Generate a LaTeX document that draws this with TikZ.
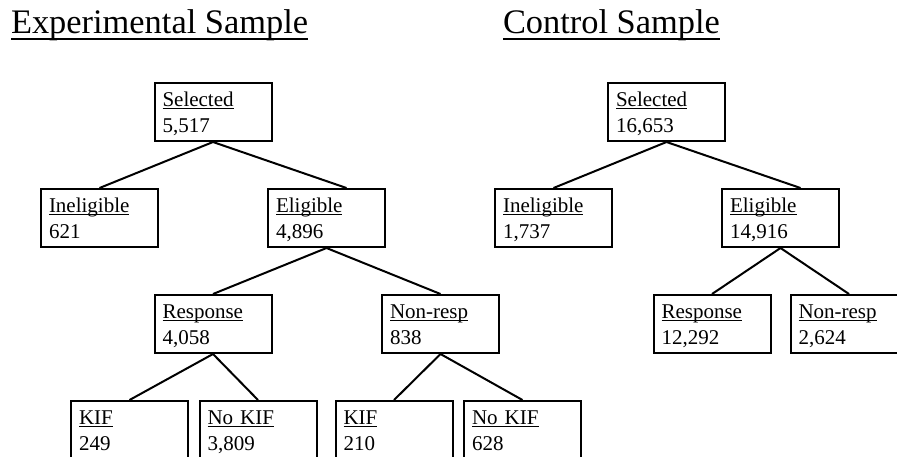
\documentclass[tikz,border=0pt]{standalone}
\usepackage{fontspec}
\setmainfont{Liberation Serif}
\usetikzlibrary{positioning}
% underline at a fixed depth, cutting through descenders
\newcommand{\undl}[3]{\setbox0=\hbox{#3}\rlap{\rule[-#1]{\wd0}{#2}}\box0}
% two-line box content: underlined label over a count
\newcommand{\boxtext}[2]{\rule{0pt}{11.5pt}\undl{1.5pt}{0.5pt}{#1}\\#2\rule[-4.5pt]{0pt}{4.5pt}}

\begin{document}
\begin{tikzpicture}[x=0.5pt,y=-0.5pt,line width=1pt,node distance=23pt,
    tbox/.style={draw,rectangle,minimum width=58.5pt,minimum height=29pt,
      text width=50.5pt,inner xsep=4pt,inner ysep=0pt,align=left,
      font=\fontsize{10.5}{13}\selectfont},
    heading/.style={anchor=base west,inner sep=0pt,
      font=\fontsize{17.2}{20}\selectfont}]
  \clip (0,0) rectangle (897,456);
  % experimental sample
  \node[heading] (eHead) at (10,33) {\undl{3.5pt}{1pt}{Experimental Sample}};
  \node[tbox,anchor=north] (eSel) at (213,82) {\boxtext{Selected}{5,517}};
  \node[tbox,below=of eSel,xshift=-56.75pt] (eInel) {\boxtext{Ineligible}{621}};
  \node[tbox,below=of eSel,xshift=56.75pt] (eElig) {\boxtext{Eligible}{4,896}};
  \node[tbox,below=of eElig,xshift=-56.75pt] (eResp) {\boxtext{Response}{4,058}};
  \node[tbox,below=of eElig,xshift=57pt] (eNon) {\boxtext{Non-resp}{838}};
  \node[tbox,below=of eResp,xshift=-41.75pt] (eKif) {\boxtext{KIF}{249}};
  \node[tbox,below=of eResp,xshift=22.5pt] (eNoKif) {\boxtext{No KIF}{3,809}};
  \node[tbox,below=of eNon,xshift=-23.25pt] (nKif) {\boxtext{KIF}{210}};
  \node[tbox,below=of eNon,xshift=41pt] (nNoKif) {\boxtext{No KIF}{628}};
  \draw (eSel.south) -- (eInel.north);
  \draw (eSel.south) -- ([xshift=10pt]eElig.north);
  \draw (eElig.south) -- (eResp.north);
  \draw (eElig.south) -- (eNon.north);
  \draw (eResp.south) -- (eKif.north);
  \draw (eResp.south) -- (eNoKif.north);
  \draw (eNon.south) -- (nKif.north);
  \draw (eNon.south) -- (nNoKif.north);
  % control sample
  \node[heading] (cHead) at (502,33) {\undl{3.5pt}{1pt}{Control Sample}};
  \node[tbox,anchor=north] (cSel) at (666.5,82) {\boxtext{Selected}{16,653}};
  \node[tbox,below=of cSel,xshift=-56.5pt] (cInel) {\boxtext{Ineligible}{1,737}};
  \node[tbox,below=of cSel,xshift=57pt] (cElig) {\boxtext{Eligible}{14,916}};
  \node[tbox,below=of cElig,xshift=-34.25pt] (cResp) {\boxtext{Response}{12,292}};
  \node[tbox,below=of cElig,xshift=34.25pt] (cNon) {\boxtext{Non-resp}{2,624}};
  \draw (cSel.south) -- (cInel.north);
  \draw (cSel.south) -- ([xshift=10pt]cElig.north);
  \draw (cElig.south) -- (cResp.north);
  \draw (cElig.south) -- (cNon.north);
\end{tikzpicture}
\end{document}
